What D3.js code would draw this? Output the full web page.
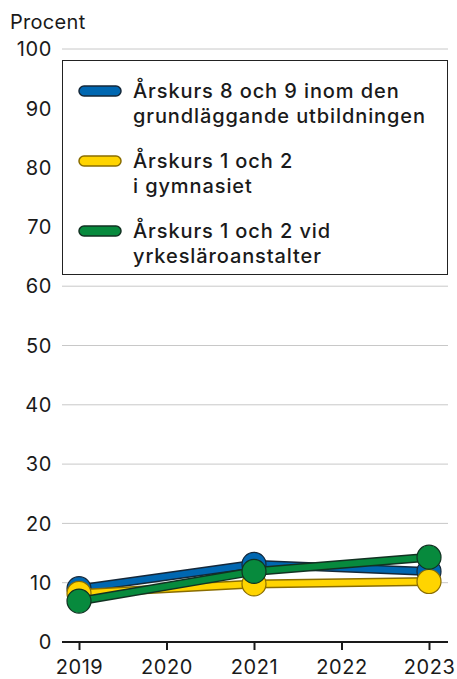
<!DOCTYPE html>
<html>
<head>
<meta charset="utf-8">
<script src="https://cdn.jsdelivr.net/npm/d3@7"></script>
<style>
  body { margin: 0; background: #fff; }
  svg { display: block; font-family: Inter, "Noto Sans", sans-serif; }
</style>
</head>
<body>
<div id="chart"></div>
<script>
const years = [2019, 2020, 2021, 2022, 2023]
const yTicks = [0, 10, 20, 30, 40, 50, 60, 70, 80, 90, 100]
const seriesNames = [
  ['Årskurs 8 och 9 inom den', 'grundläggande utbildningen'],
  ['Årskurs 1 och 2', 'i gymnasiet'],
  ['Årskurs 1 och 2 vid', 'yrkesläroanstalter']
]
const dataYears = [2019, 2021, 2023]
const blueValues = [9.0, 13.1, 11.9]
const yellowValues = [8.2, 9.8, 10.2]
const greenValues = [6.9, 11.9, 14.3]
const fills = ['#0067b1', '#ffd400', '#078a3d']
const edges = ['#15283a', '#8a6d00', '#123222']

const width = 457, height = 679
const margin = { left: 62, right: 9, top: 49, bottom: 37 }

const svg = d3.select('#chart').append('svg')
  .attr('width', width).attr('height', height)

const x = d3.scaleLinear().domain([2019, 2023]).range([79, 429])
const y = d3.scaleLinear().domain([0, 100]).range([height - margin.bottom, margin.top])

// grid
svg.append('g').selectAll('line').data(yTicks.filter(d => d > 0)).join('line')
  .attr('x1', margin.left).attr('x2', width - margin.right)
  .attr('y1', d => y(d)).attr('y2', d => y(d))
  .attr('stroke', '#c8c8c8').attr('stroke-width', 1)

// y labels
svg.append('g').selectAll('text').data(yTicks).join('text')
  .attr('x', 52).attr('y', d => y(d)).attr('dy', '0.36em')
  .attr('text-anchor', 'end').attr('font-size', 20).attr('letter-spacing', 0.6)
  .attr('fill', '#1a1a1a')
  .text(d => d)

svg.append('text').attr('x', 10).attr('y', 29)
  .attr('font-size', 20).attr('letter-spacing', 0.3).attr('fill', '#1a1a1a').text('Procent')

// x axis
const xAxis = d3.axisBottom(x).tickValues(years).tickFormat(d3.format('d'))
  .tickSize(8).tickSizeOuter(0)
const gx = svg.append('g').attr('transform', `translate(0,${y(0)})`).call(xAxis)
gx.select('.domain').attr('d', `M${margin.left},0H${width - margin.right}`)
  .attr('stroke', '#1a1a1a').attr('stroke-width', 2)
gx.selectAll('.tick line').attr('stroke', '#1a1a1a').attr('stroke-width', 2)
gx.selectAll('.tick text').attr('font-size', 20).attr('fill', '#1a1a1a')
  .attr('letter-spacing', 0.6)
  .attr('font-family', 'Inter, "Noto Sans", sans-serif').attr('dy', '1.05em')

// lines and markers
const allValues = [blueValues, yellowValues, greenValues]
const line = d3.line().x((d, i) => x(dataYears[i])).y(d => y(d))
allValues.forEach((vals, s) => {
  const g = svg.append('g')
  g.append('path').attr('d', line(vals)).attr('fill', 'none')
    .attr('stroke', edges[s]).attr('stroke-width', 9).attr('stroke-linejoin', 'round')
  g.append('path').attr('d', line(vals)).attr('fill', 'none')
    .attr('stroke', fills[s]).attr('stroke-width', 6).attr('stroke-linejoin', 'round')
  g.selectAll('circle').data(vals).join('circle')
    .attr('cx', (d, i) => x(dataYears[i])).attr('cy', d => y(d)).attr('r', 12)
    .attr('fill', fills[s]).attr('stroke', edges[s]).attr('stroke-width', 1.2)
})

// legend
const lg = svg.append('g')
lg.append('rect').attr('x', 62.5).attr('y', 60.5).attr('width', 385).attr('height', 214)
  .attr('fill', '#fff').attr('stroke', '#222').attr('stroke-width', 1)
const legendY = [91, 161, 231]
seriesNames.forEach((lines, s) => {
  lg.append('rect').attr('x', 79).attr('y', legendY[s] - 5).attr('width', 42).attr('height', 10)
    .attr('rx', 5).attr('fill', fills[s]).attr('stroke', edges[s]).attr('stroke-width', 1.5)
  lines.forEach((t, k) => {
    lg.append('text').attr('x', 133).attr('y', legendY[s] + k * 25).attr('dy', '0.36em')
      .attr('font-size', 20).attr('font-weight', 500).attr('letter-spacing', 0.9)
      .attr('fill', '#1a1a1a').text(t)
  })
})
</script>
</body>
</html>
